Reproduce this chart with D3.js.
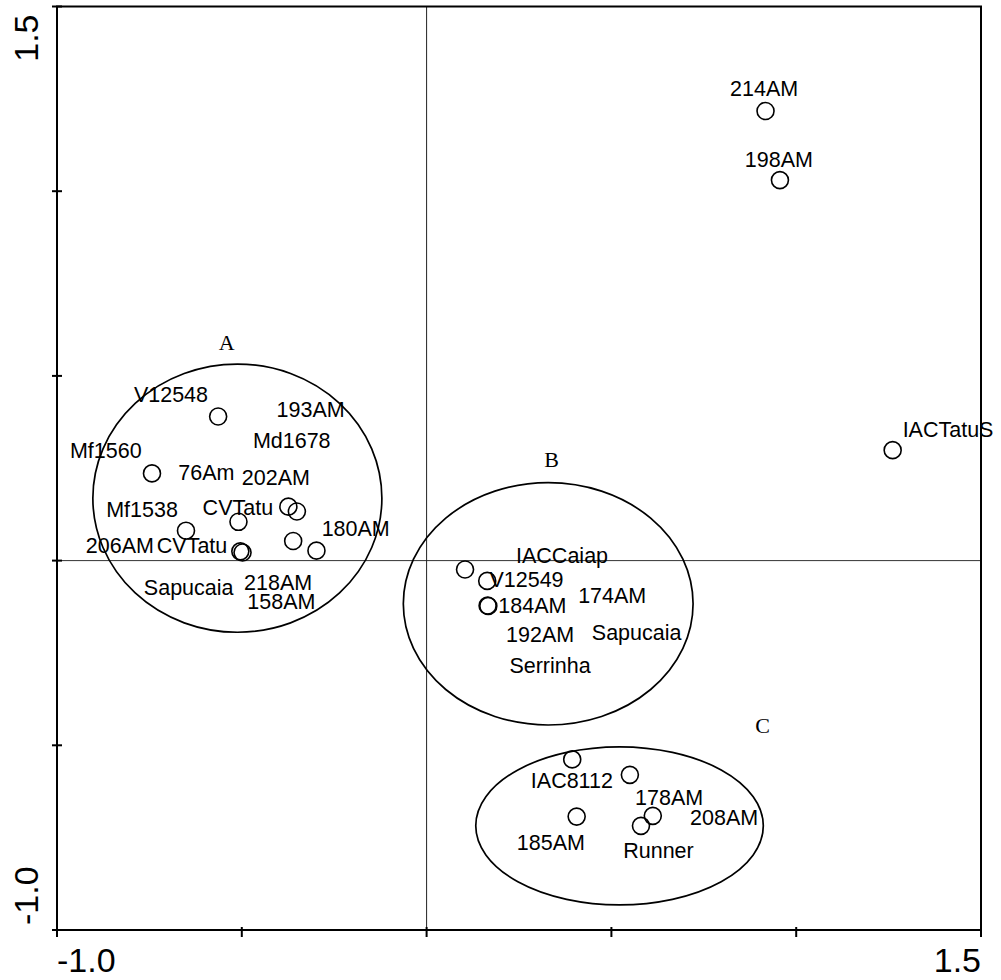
<!DOCTYPE html>
<html>
<head>
<meta charset="utf-8">
<script src="https://cdn.jsdelivr.net/npm/d3@7"></script>
<style>
  html, body { margin: 0; padding: 0; background: #fff; }
  svg { display: block; }
</style>
</head>
<body>
<svg id="chart" width="1001" height="980"></svg>
<script>
// ---- data ----
const xDomain = [-1.0, 1.5];
const yDomain = [-1.0, 1.5];
const tickValues = [-1.0, -0.5, 0, 0.5, 1.0, 1.5];
const xTickLabels = ["-1.0", "1.5"];
const yTickLabels = ["-1.0", "1.5"];

// plotted points (circles)
const pointX = [-0.564, -0.743, -0.651, -0.509, -0.374, -0.351, -0.361, -0.298, -0.504, -0.498,
                 0.104, 0.164, 0.167, 0.165,
                 0.394, 0.550, 0.406, 0.612, 0.580,
                 0.917, 0.956, 1.261];
const pointY = [0.390, 0.236, 0.081, 0.105, 0.146, 0.133, 0.053, 0.027, 0.025, 0.022,
                -0.024, -0.055, -0.123, -0.122,
                -0.538, -0.580, -0.693, -0.691, -0.718,
                1.217, 1.030, 0.299];

// genotype labels (text anchor positions in data units)
const labelText = ["V12548", "193AM", "Md1678", "Mf1560", "76Am", "202AM", "Mf1538", "CVTatu",
                   "180AM", "206AM", "CVTatu", "Sapucaia", "218AM", "158AM",
                   "IACCaiap", "V12549", "174AM", "184AM", "192AM", "Sapucaia", "Serrinha",
                   "IAC8112", "178AM", "208AM", "185AM", "Runner",
                   "214AM", "198AM", "IACTatuS"];
const labelX = [-0.792, -0.406, -0.470, -0.965, -0.672, -0.500, -0.867, -0.606,
                -0.284, -0.922, -0.730, -0.765, -0.494, -0.485,
                 0.242, 0.170, 0.410, 0.194, 0.215, 0.447, 0.224,
                 0.282, 0.564, 0.713, 0.244, 0.532,
                 0.821, 0.861, 1.288];
const labelY = [0.429, 0.390, 0.305, 0.278, 0.218, 0.205, 0.119, 0.123,
                0.067, 0.020, 0.020, -0.093, -0.079, -0.130,
               -0.007, -0.071, -0.116, -0.143, -0.220, -0.215, -0.305,
               -0.616, -0.662, -0.716, -0.783, -0.806,
                1.258, 1.066, 0.335];

// groups (ellipses)
const groupNames = ["A", "B", "C"];
const groupCX = [-0.512, 0.329, 0.522];
const groupCY = [0.169, -0.117, -0.718];
const groupRX = [0.391, 0.392, 0.389];
const groupRY = [0.363, 0.328, 0.214];
const groupLabelX = [-0.541, 0.338, 0.909];
const groupLabelY = [0.570, 0.254, -0.467];

// ---- drawing ----
const svg = d3.select("#chart");
const x = d3.scaleLinear().domain(xDomain).range([57, 981]);
const y = d3.scaleLinear().domain(yDomain).range([930, 6.5]);

const sans = "'Liberation Sans', Arial, sans-serif";
const serif = "'Liberation Serif', 'Times New Roman', serif";

// zero reference lines
svg.append("line")
  .attr("x1", x(xDomain[0])).attr("x2", x(xDomain[1]))
  .attr("y1", y(0)).attr("y2", y(0))
  .attr("stroke", "#333").attr("stroke-width", 1);
svg.append("line")
  .attr("x1", x(0)).attr("x2", x(0))
  .attr("y1", y(yDomain[0])).attr("y2", y(yDomain[1]))
  .attr("stroke", "#222").attr("stroke-width", 1);

// ellipses
const groups = groupNames.map((g, i) => ({
  name: g, cx: groupCX[i], cy: groupCY[i], rx: groupRX[i], ry: groupRY[i],
  lx: groupLabelX[i], ly: groupLabelY[i]
}));
svg.selectAll("ellipse.grp").data(groups).enter().append("ellipse")
  .attr("class", "grp")
  .attr("cx", d => x(d.cx)).attr("cy", d => y(d.cy))
  .attr("rx", d => x(d.cx + d.rx) - x(d.cx))
  .attr("ry", d => y(d.cy) - y(d.cy + d.ry))
  .attr("fill", "none").attr("stroke", "#000").attr("stroke-width", 1.7);

svg.selectAll("text.grp").data(groups).enter().append("text")
  .attr("class", "grp")
  .attr("x", d => x(d.lx)).attr("y", d => y(d.ly))
  .attr("text-anchor", "middle")
  .attr("font-family", serif).attr("font-size", 22)
  .attr("fill", "#000")
  .text(d => d.name);

// points
const points = pointX.map((v, i) => ({ x: v, y: pointY[i] }));
svg.selectAll("circle.pt").data(points).enter().append("circle")
  .attr("class", "pt")
  .attr("cx", d => x(d.x)).attr("cy", d => y(d.y))
  .attr("r", 8.5)
  .attr("fill", "none").attr("stroke", "#000").attr("stroke-width", 1.6);

// labels
const labels = labelText.map((t, i) => ({ t, x: labelX[i], y: labelY[i] }));
svg.selectAll("text.lbl").data(labels).enter().append("text")
  .attr("class", "lbl")
  .attr("x", d => x(d.x)).attr("y", d => y(d.y))
  .attr("font-family", sans).attr("font-size", 21.5)
  .attr("fill", "#000")
  .text(d => d.t);

// frame
svg.append("rect")
  .attr("x", x(xDomain[0])).attr("y", y(yDomain[1]))
  .attr("width", x(xDomain[1]) - x(xDomain[0]))
  .attr("height", y(yDomain[0]) - y(yDomain[1]))
  .attr("fill", "none").attr("stroke", "#000").attr("stroke-width", 2);

// ticks
svg.selectAll("line.xt").data(tickValues).enter().append("line")
  .attr("class", "xt")
  .attr("x1", d => x(d)).attr("x2", d => x(d))
  .attr("y1", y(yDomain[0]) - 3).attr("y2", y(yDomain[0]) + 7)
  .attr("stroke", "#000").attr("stroke-width", 2);
svg.selectAll("line.yt").data(tickValues).enter().append("line")
  .attr("class", "yt")
  .attr("x1", x(xDomain[0]) - 5).attr("x2", x(xDomain[0]) + 5)
  .attr("y1", d => y(d)).attr("y2", d => y(d))
  .attr("stroke", "#000").attr("stroke-width", 2);

// tick labels (ends only)
svg.append("text")
  .attr("x", x(xDomain[0])).attr("y", y(yDomain[0]) + 42)
  .attr("text-anchor", "start")
  .attr("font-family", sans).attr("font-size", 34)
  .text(xTickLabels[0]);
svg.append("text")
  .attr("x", x(xDomain[1])).attr("y", y(yDomain[0]) + 42)
  .attr("text-anchor", "end")
  .attr("font-family", sans).attr("font-size", 34)
  .text(xTickLabels[1]);
svg.append("text")
  .attr("transform", `translate(38,${y(yDomain[0]) - 5}) rotate(-90)`)
  .attr("text-anchor", "start")
  .attr("font-family", sans).attr("font-size", 34)
  .text(yTickLabels[0]);
svg.append("text")
  .attr("transform", `translate(38,${y(yDomain[1]) + 8}) rotate(-90)`)
  .attr("text-anchor", "end")
  .attr("font-family", sans).attr("font-size", 34)
  .text(yTickLabels[1]);
</script>
</body>
</html>
